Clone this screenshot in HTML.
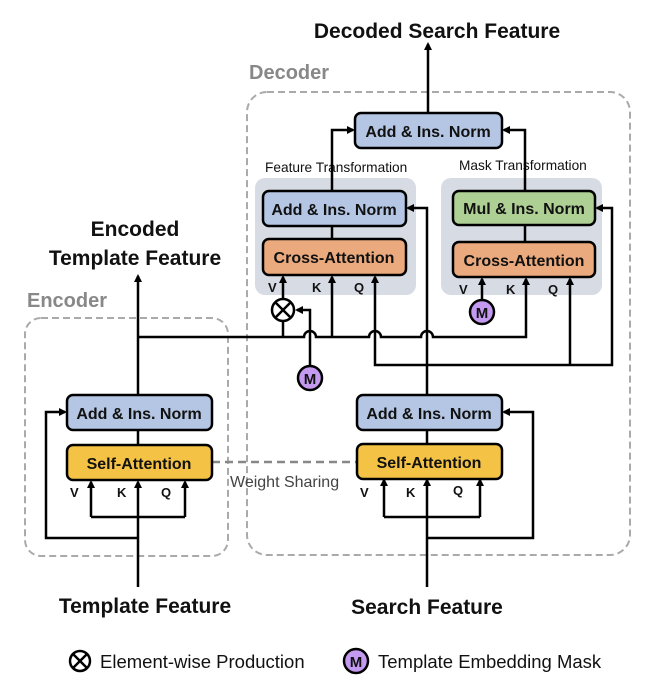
<!DOCTYPE html>
<html><head><meta charset="utf-8"><style>
body{margin:0;background:#fff;}
svg{display:block;font-family:"Liberation Sans",sans-serif;}
.b{font-weight:bold;}
</style></head><body>
<svg width="660" height="688" viewBox="0 0 660 688" xmlns="http://www.w3.org/2000/svg">
<defs>
<marker id="a" markerWidth="8" markerHeight="8" refX="6" refY="4" orient="auto" markerUnits="userSpaceOnUse">
<path d="M0,0 L8,4 L0,8 z" fill="#000"/></marker>
</defs>
<rect x="25" y="318" width="203" height="238" rx="16" fill="none" stroke="#aaa" stroke-width="2" stroke-dasharray="7,4"/>
<rect x="247" y="92" width="383" height="463" rx="20" fill="none" stroke="#aaa" stroke-width="2" stroke-dasharray="7,4"/>
<text x="27" y="307" font-size="20" fill="#888" class="b">Encoder</text>
<text x="249" y="79" font-size="20" fill="#888" class="b">Decoder</text>
<rect x="255" y="178" width="161" height="117" rx="10" fill="#d6dbe4"/>
<rect x="441" y="178" width="161" height="117" rx="10" fill="#d6dbe4"/>
<text x="265" y="172" font-size="13.7" fill="#111">Feature Transformation</text>
<text x="459" y="170" font-size="13.7" fill="#111">Mask Transformation</text>

<g stroke="#000" stroke-width="2.5" fill="none">
<line x1="428" y1="113" x2="428" y2="44" marker-end="url(#a)"/>
<polyline points="332,191 332,130 353,130" marker-end="url(#a)"/>
<polyline points="525,191 525,130 504,130" marker-end="url(#a)"/>
<line x1="332" y1="226" x2="332" y2="239"/>
<line x1="525" y1="225" x2="525" y2="242"/>
<path d="M138,337 H304 a6,6 0 0 1 12,0 H369 a6,6 0 0 1 12,0 H421 a6,6 0 0 1 12,0 H526 V279" marker-end="url(#a)"/>
<line x1="283" y1="337" x2="283" y2="322"/>
<line x1="283" y1="298" x2="283" y2="277" marker-end="url(#a)"/>
<line x1="332" y1="337" x2="332" y2="277" marker-end="url(#a)"/>
<polyline points="310,366 310,310 297,310" marker-end="url(#a)"/>
<polyline points="375,300 375,365 612,365 612,208 597,208" marker-end="url(#a)"/>
<line x1="375" y1="300" x2="375" y2="277" marker-end="url(#a)"/>
<line x1="570" y1="365" x2="570" y2="279" marker-end="url(#a)"/>
<line x1="482" y1="300" x2="482" y2="279" marker-end="url(#a)"/>
<polyline points="427,395 427,208 408,208" marker-end="url(#a)"/>
<line x1="138" y1="395" x2="138" y2="276" marker-end="url(#a)"/>
<line x1="138" y1="430" x2="138" y2="445"/>
<line x1="138" y1="587" x2="138" y2="482" marker-end="url(#a)"/>
<polyline points="91,517 185,517"/>
<line x1="91" y1="517" x2="91" y2="482" marker-end="url(#a)"/>
<line x1="185" y1="517" x2="185" y2="482" marker-end="url(#a)"/>
<polyline points="138,538 46,538 46,412 65,412" marker-end="url(#a)"/>
<line x1="427" y1="430" x2="427" y2="444"/>
<line x1="427" y1="587" x2="427" y2="480" marker-end="url(#a)"/>
<polyline points="384,517 480,517"/>
<line x1="384" y1="517" x2="384" y2="480" marker-end="url(#a)"/>
<line x1="480" y1="517" x2="480" y2="480" marker-end="url(#a)"/>
<polyline points="427,538 533,538 533,412 504,412" marker-end="url(#a)"/>
</g>
<line x1="212" y1="462" x2="357" y2="462" stroke="#888" stroke-width="2.5" stroke-dasharray="8,5"/>
<text x="230" y="487" font-size="16" fill="#444">Weight Sharing</text>

<g stroke="#000" stroke-width="2.5">
<rect x="355" y="113" width="147" height="35" rx="6" fill="#b4c6e4"/>
<rect x="263" y="191" width="143" height="35" rx="6" fill="#b4c6e4"/>
<rect x="263" y="239" width="143" height="36" rx="6" fill="#eaaa7e"/>
<rect x="453" y="191" width="142" height="34" rx="6" fill="#afd095"/>
<rect x="453" y="242" width="142" height="35" rx="6" fill="#eaaa7e"/>
<rect x="67" y="395" width="145" height="35" rx="6" fill="#b4c6e4"/>
<rect x="67" y="445" width="145" height="35" rx="6" fill="#f4c244"/>
<rect x="357" y="395" width="145" height="35" rx="6" fill="#b4c6e4"/>
<rect x="357" y="444" width="145" height="35" rx="6" fill="#f4c244"/>
</g>
<g font-size="16" class="b" text-anchor="middle" fill="#111">
<text x="428" y="137">Add &amp; Ins. Norm</text>
<text x="334" y="215">Add &amp; Ins. Norm</text>
<text x="334" y="263">Cross-Attention</text>
<text x="524" y="214">Mul &amp; Ins. Norm</text>
<text x="524" y="266">Cross-Attention</text>
<text x="139" y="419">Add &amp; Ins. Norm</text>
<text x="139" y="469">Self-Attention</text>
<text x="429" y="419">Add &amp; Ins. Norm</text>
<text x="429" y="468">Self-Attention</text>
</g>
<g font-size="13" class="b" fill="#111">
<text x="268" y="292">V</text><text x="312" y="292">K</text><text x="354" y="292">Q</text>
<text x="459" y="294">V</text><text x="506" y="294">K</text><text x="548" y="294">Q</text>
<text x="70" y="497">V</text><text x="117" y="497">K</text><text x="161" y="497">Q</text>
<text x="360" y="497">V</text><text x="406" y="497">K</text><text x="453" y="495">Q</text>
</g>
<g stroke="#000" stroke-width="2.5">
<circle cx="283" cy="310" r="11" fill="#fff"/>
<line x1="275" y1="302" x2="291" y2="318"/><line x1="291" y1="302" x2="275" y2="318"/>
<circle cx="310" cy="378" r="12" fill="#c39af0"/>
<circle cx="482" cy="312" r="12" fill="#c39af0"/>
<circle cx="80" cy="661" r="10" fill="#fff"/>
<line x1="73" y1="654" x2="87" y2="668"/><line x1="87" y1="654" x2="73" y2="668"/>
<circle cx="356" cy="661" r="12" fill="#c39af0"/>
</g>
<g font-size="15" class="b" text-anchor="middle" fill="#111">
<text x="310" y="384">M</text><text x="482" y="318">M</text><text x="356" y="667">M</text>
</g>
<g font-size="21" class="b" text-anchor="middle" fill="#111">
<text x="437" y="38">Decoded Search Feature</text>
<text x="135" y="236">Encoded</text>
<text x="135" y="265">Template Feature</text>
<text x="145" y="613">Template Feature</text>
<text x="427" y="614">Search Feature</text>
</g>
<text x="100" y="668" font-size="18.5" fill="#111">Element-wise Production</text>
<text x="378" y="668" font-size="18.5" fill="#111">Template Embedding Mask</text>
</svg>
</body></html>
